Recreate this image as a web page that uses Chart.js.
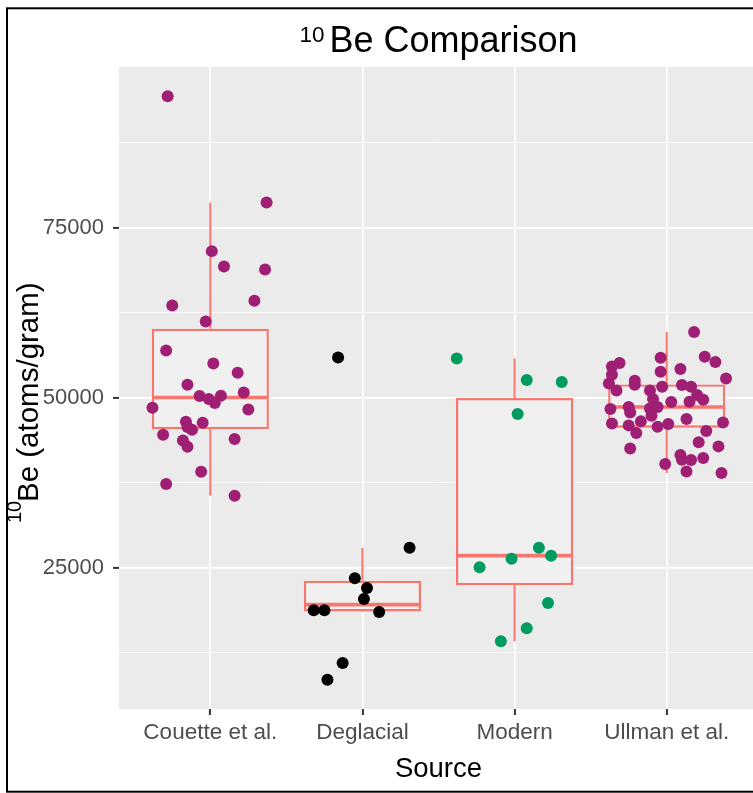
<!DOCTYPE html>
<html>
<head>
<meta charset="utf-8">
<script src="https://cdn.jsdelivr.net/npm/chart.js@4.4.0/dist/chart.umd.min.js"></script>
<style>
html, body { margin: 0; padding: 0; overflow: hidden; background: #fff; }
#wrap { position: relative; width: 770px; height: 793px; }
</style>
</head>
<body>
<div id="wrap"><canvas id="chart" width="770" height="793"></canvas></div>
<script>
// Datos: 10Be (atoms/gram) por fuente, con el desplazamiento horizontal (jitter) de cada punto
const categories = ['Couette et al.', 'Deglacial', 'Modern', 'Ullman et al.'];

const couetteBe = [94370, 78720, 71570, 69310, 68870, 64260, 63570, 61220, 56960, 55040,
    53680, 51910, 50250, 49800, 49220, 50290, 50780, 48530, 48280, 46470,
    46320, 45690, 45290, 44560, 43920, 43720, 42790, 39120, 37310, 35590];
const couetteJitter = [-0.28, 0.37, 0.01, 0.09, 0.36, 0.29, -0.25, -0.03, -0.29, 0.02,
    0.18, -0.15, -0.07, -0.01, 0.03, 0.07, 0.22, -0.38, 0.25, -0.16,
    -0.05, -0.15, -0.12, -0.31, 0.16, -0.18, -0.15, -0.06, -0.29, 0.16];

const deglacialBe = [55930, 27940, 23430, 22010, 20390, 18720, 18720, 18480, 10980, 8490];
const deglacialJitter = [-0.16, 0.31, -0.05, 0.03, 0.01, -0.32, -0.25, 0.11, -0.13, -0.23];

const modernBe = [55780, 52600, 52300, 47600, 27940, 26760, 26320, 25050, 19810, 16070, 14170];
const modernJitter = [-0.38, 0.08, 0.31, 0.02, 0.16, 0.24, -0.02, -0.23, 0.22, 0.08, -0.09];

const ullmanBe = [59660, 56030, 55250, 55880, 55100, 54600, 54220, 53820, 53380, 52840,
    52100, 52500, 51910, 51070, 51620, 51870, 51070, 51620, 50400, 49710,
    49800, 49360, 49410, 48340, 48630, 47840, 48430, 48630, 47350, 46520,
    46220, 45930, 44810, 45740, 46130, 46870, 46370, 45100, 42540, 43430,
    42840, 40250, 41570, 40880, 40840, 41130, 39160, 38930];
const ullmanJitter = [0.18, 0.25, 0.32, -0.04, -0.31, -0.36, 0.09, -0.04, -0.36, 0.39,
    -0.38, -0.21, -0.21, -0.33, -0.03, 0.10, -0.11, 0.16, 0.20, 0.24,
    -0.09, 0.03, 0.15, -0.37, -0.25, -0.24, -0.11, -0.06, -0.10, -0.17,
    -0.36, -0.25, -0.20, -0.06, 0.01, 0.13, 0.37, 0.26, -0.24, 0.21,
    0.34, -0.01, 0.09, 0.10, 0.16, 0.24, 0.13, 0.36];

const yMajorTicks = [25000, 50000, 75000];
const yMinorTicks = [12500, 37500, 62500, 87500];

const pointColors = ['#9E1F74', '#000000', '#009B5F', '#9E1F74'];
const boxColor = '#F8766D';
const FONT = '"Liberation Sans", Arial, Helvetica, sans-serif';

const groups = [couetteBe, deglacialBe, modernBe, ullmanBe];
const jitters = [couetteJitter, deglacialJitter, modernJitter, ullmanJitter];

// Cuantiles tipo 7 (como R)
function quantile(sorted, p) {
    const pos = (sorted.length - 1) * p;
    const lo = Math.floor(pos), hi = Math.ceil(pos);
    return sorted[lo] + (sorted[hi] - sorted[lo]) * (pos - lo);
}

function boxStats(values) {
    const s = [...values].sort((a, b) => a - b);
    const q1 = quantile(s, 0.25), med = quantile(s, 0.5), q3 = quantile(s, 0.75);
    const iqr = q3 - q1;
    const lo = Math.min(...s.filter(v => v >= q1 - 1.5 * iqr));
    const hi = Math.max(...s.filter(v => v <= q3 + 1.5 * iqr));
    return { q1, med, q3, lo, hi };
}

const stats = groups.map(boxStats);
const allValues = groups.flat();
const yLo = Math.min(...allValues), yHi = Math.max(...allValues);
const yPad = (yHi - yLo) * 0.05;

const boxData = stats.map((s, i) => ({ x: i + 1, y: [s.q1, s.q3] }));
const whiskerData = [];
const medianData = [];
stats.forEach((s, i) => {
    const x = i + 1;
    whiskerData.push({ x, y: s.q3 }, { x, y: s.hi }, { x, y: null }, { x, y: s.q1 }, { x, y: s.lo }, { x, y: null });
    medianData.push({ x: x - 0.38, y: s.med }, { x: x + 0.38, y: s.med }, { x, y: null });
});

const pointSets = groups.map((vals, i) => ({
    type: 'scatter',
    data: vals.map((v, j) => ({ x: i + 1 + jitters[i][j], y: v })),
    backgroundColor: pointColors[i],
    borderWidth: 0,
    pointRadius: 6,
    order: 0
}));

const decorations = {
    id: 'decorations',
    beforeDraw(chart) {
        const { ctx, chartArea: a } = chart;
        ctx.save();
        ctx.fillStyle = '#EBEBEB';
        ctx.fillRect(a.left, a.top, a.right - a.left, a.bottom - a.top);
        ctx.restore();
    },
    afterDraw(chart) {
        const { ctx, chartArea: a } = chart;
        const cx = (a.left + a.right) / 2;
        ctx.save();
        // marco
        ctx.strokeStyle = '#000';
        ctx.lineWidth = 2;
        ctx.strokeRect(7, 8.3, 800, 783.4);

        ctx.fillStyle = '#000';
        ctx.textBaseline = 'alphabetic';
        ctx.textAlign = 'left';

        // título
        ctx.font = '22.5px ' + FONT;
        const w1 = ctx.measureText('10').width;
        ctx.font = '36px ' + FONT;
        const w2 = ctx.measureText('Be Comparison').width;
        const gap = 5;
        let x = cx - (w1 + gap + w2) / 2;
        ctx.font = '22.5px ' + FONT;
        ctx.fillText('10', x, 41.7);
        ctx.font = '36px ' + FONT;
        ctx.fillText('Be Comparison', x + w1 + gap, 52);

        // título eje x
        ctx.font = '27.5px ' + FONT;
        ctx.textAlign = 'center';
        ctx.fillText('Source', cx, 776.7);

        // título eje y (rotado)
        ctx.save();
        ctx.translate(38, 523);
        ctx.rotate(-Math.PI / 2);
        ctx.textAlign = 'left';
        ctx.font = '20px ' + FONT;
        ctx.fillText('10', 0, -17);
        ctx.font = '29.5px ' + FONT;
        ctx.fillText('Be (atoms/gram)', 21, 0);
        ctx.restore();

        ctx.restore();
    }
};

new Chart(document.getElementById('chart'), {
    type: 'scatter',
    data: {
        datasets: [
            ...pointSets,
            {
                type: 'line',
                data: medianData,
                borderColor: boxColor,
                borderWidth: 3.6,
                borderCapStyle: 'butt',
                pointRadius: 0,
                spanGaps: false,
                order: 1
            },
            {
                type: 'line',
                data: whiskerData,
                borderColor: boxColor,
                borderWidth: 2,
                borderCapStyle: 'butt',
                pointRadius: 0,
                spanGaps: false,
                order: 2
            },
            {
                type: 'bar',
                data: boxData,
                backgroundColor: '#F0F0F0',
                borderColor: boxColor,
                borderWidth: 2.4,
                borderSkipped: false,
                grouped: false,
                barPercentage: 0.77,
                categoryPercentage: 1,
                order: 3
            }
        ]
    },
    options: {
        responsive: false,
        animation: false,
        events: [],
        layout: { padding: { top: 67, right: 12, left: 0, bottom: 0 } },
        plugins: {
            legend: { display: false },
            tooltip: { enabled: false },
            title: { display: false }
        },
        scales: {
            x: {
                type: 'linear',
                min: 0.4,
                max: 4.6,
                offset: false,
                afterBuildTicks: s => { s.ticks = categories.map((c, i) => ({ value: i + 1 })); },
                afterFit: s => { s.height = 84; },
                border: { display: false },
                grid: {
                    offset: false,
                    color: '#FFFFFF',
                    lineWidth: 1.8,
                    tickColor: '#333333',
                    tickWidth: 2,
                    tickLength: 6
                },
                ticks: {
                    autoSkip: false,
                    maxRotation: 0,
                    padding: 4,
                    color: '#4D4D4D',
                    font: { family: FONT, size: 22.5 },
                    callback: v => categories[Math.round(v) - 1] || ''
                }
            },
            y: {
                type: 'linear',
                min: yLo - yPad,
                max: yHi + yPad,
                beginAtZero: false,
                afterBuildTicks: s => {
                    s.ticks = [...yMinorTicks, ...yMajorTicks].sort((a, b) => a - b).map(v => ({ value: v }));
                },
                afterFit: s => { s.width = 119; },
                border: { display: false },
                grid: {
                    color: '#FFFFFF',
                    lineWidth: c => (c.tick && yMajorTicks.includes(c.tick.value)) ? 1.8 : 0.9,
                    tickColor: c => (c.tick && yMajorTicks.includes(c.tick.value)) ? '#333333' : 'rgba(0,0,0,0)',
                    tickWidth: 2,
                    tickLength: 6
                },
                ticks: {
                    autoSkip: false,
                    padding: 9,
                    color: '#4D4D4D',
                    font: { family: FONT, size: 22 },
                    callback: v => yMajorTicks.includes(v) ? String(v) : ''
                }
            }
        }
    },
    plugins: [decorations]
});
</script>
</body>
</html>
